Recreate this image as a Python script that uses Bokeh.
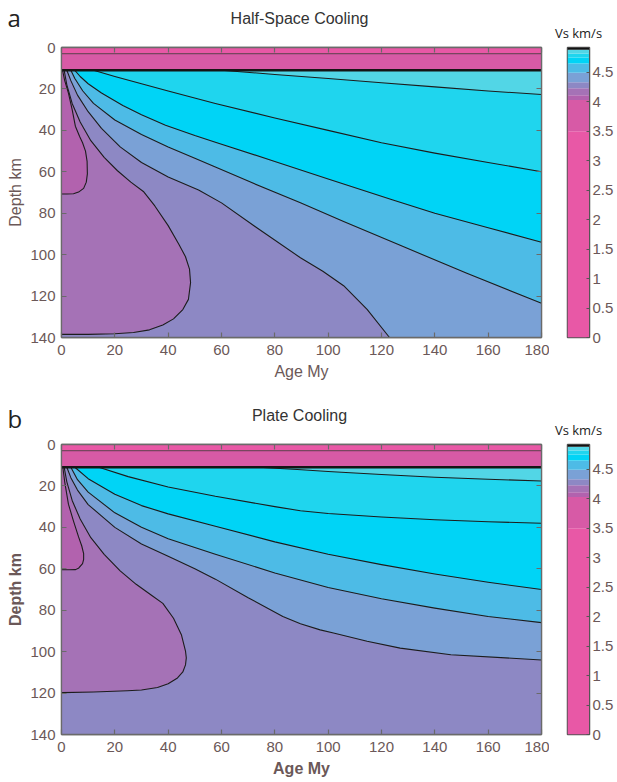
from bokeh.plotting import figure
from bokeh.models import Range1d, LinearAxis, FixedTicker, CustomJSTickFormatter
from bokeh.layouts import column, row
from bokeh.embed import file_html
from bokeh.resources import INLINE
from bokeh.core.properties import value

# ---------------- data ----------------
AGE_TICKS = [0, 20, 40, 60, 80, 100, 120, 140, 160, 180]
DEPTH_TICKS = [0, 20, 40, 60, 80, 100, 120, 140]
VS_TICKS = [0, 0.5, 1, 1.5, 2, 2.5, 3, 3.5, 4, 4.5]

MAX_AGE = 180
MAX_DEPTH = 140
WATER_BOTTOM = 3.0
CRUST_BOTTOM = 11.0
WATER_VS = 0.0
CRUST_VS = 3.8

# discrete colour scale (Vs km/s)
VS_LEVELS = [0, 3.5, 4.03, 4.11, 4.23, 4.33, 4.49, 4.65, 4.75, 4.82, 4.88, 4.92]
VS_COLORS = ["#e858a6", "#d75aa6", "#b262ae", "#a572b6", "#8d88c4", "#7aa1d6",
             "#4dbbe6", "#00d4f6", "#1fd5ee", "#52d6e6", "#111111"]

# mantle Vs of the regions: inside L1, L1-L2, ..., L6-L7, above L7
MANTLE_VS = [4.07, 4.17, 4.28, 4.41, 4.57, 4.70, 4.78, 4.85]

# ---- Half-space cooling contours (age My, depth km) ----
HS_L1_AGE = [0.4, 1.2, 2.6, 4.0, 5.2, 6.8, 7.9, 9.0, 9.6, 9.7, 9.3, 8.3, 6.4, 4.5, 2.0, 0.0]
HS_L1_DEPTH = [11, 16, 22, 30, 38, 43, 46, 50, 55, 61, 65, 68, 69.8, 70.6, 70.7, 70.7]
HS_L2_AGE = [1.0, 2.0, 4.0, 7.0, 11, 16, 21, 26, 30.7, 35, 40, 44, 46.5, 48, 48.4, 47.6, 45.5, 42, 38, 33, 27, 20, 10, 0]
HS_L2_DEPTH = [11, 18, 27, 36, 45, 53, 59.5, 65, 69.5, 76.5, 86, 95, 101, 107, 113.5, 121.6, 126.5, 131, 134, 136.3, 137.6, 138.2, 138.5, 138.5]
HS_L3_AGE = [2.0, 3.5, 6, 10, 15, 22, 30, 40, 51.4, 60, 72.7, 89.6, 98, 105.8, 114.6, 123]
HS_L3_DEPTH = [11, 16, 23, 31, 39, 48, 55.5, 62.5, 68.8, 75, 86.5, 101.5, 108, 115, 126.4, 140]
HS_L4_AGE = [3.5, 5, 8, 12, 20, 30, 40, 50, 57.7, 70, 89.6, 105.8, 127, 152, 180]
HS_L4_DEPTH = [11, 15, 21, 27, 35, 42, 48, 53.5, 57.7, 64.5, 75, 84, 95.5, 109, 123.5]
HS_L5_AGE = [5, 7, 10, 15, 23, 30, 39, 50, 57.7, 80, 100, 124, 140, 160, 180]
HS_L5_DEPTH = [11, 14, 17.5, 22, 28, 32.5, 37.5, 42.5, 45.7, 55, 63.5, 73.5, 80, 87, 94]
HS_L6_AGE = [12, 20, 30, 40, 57.7, 80, 100, 120, 140, 160, 180]
HS_L6_DEPTH = [11, 14, 17.5, 21, 27, 34, 40, 46, 51, 55.5, 60]
HS_L7_AGE = [60, 80, 100, 120, 140, 160, 180]
HS_L7_DEPTH = [11, 13, 15, 17, 19, 21, 22.7]

# ---- Plate cooling contours (age My, depth km) ----
PC_L1_AGE = [0.5, 1.2, 2.6, 4.5, 6.4, 7.6, 8.3, 8.3, 7.9, 6.5, 5.3, 3.0, 0.0]
PC_L1_DEPTH = [11, 18, 28.8, 37, 44.6, 49, 52.7, 55.5, 57.5, 59.6, 60.4, 60.5, 60.5]
PC_L2_AGE = [1.0, 2, 4, 7, 11, 16, 22, 28, 34, 38, 42, 45, 46.5, 46.8, 46.5, 45.5, 43.5, 40, 36, 30, 24.7, 12, 0]
PC_L2_DEPTH = [11, 18, 27, 36, 45, 53, 61, 67.5, 73, 76.7, 83.9, 92, 99.7, 103, 106.4, 109.8, 112.7, 115.5, 117.3, 118.5, 118.9, 119.5, 119.8]
PC_L3_AGE = [2.0, 3.5, 6, 10, 20, 30, 40, 50, 57.7, 70, 83, 89.6, 97, 102, 114.6, 127, 146, 180]
PC_L3_DEPTH = [11, 16, 22, 29, 40, 48, 54, 60, 65, 74, 83, 86.5, 89.5, 91, 95, 98.3, 101.5, 104]
PC_L4_AGE = [3.5, 6, 10, 20, 30, 40, 57.7, 80, 100, 120, 140, 160, 180]
PC_L4_DEPTH = [11, 17, 23, 33, 40, 45.5, 53, 62, 69, 74.5, 79, 83, 86]
PC_L5_AGE = [5, 10, 20, 30, 40, 57.7, 80, 100, 120, 140, 160, 180]
PC_L5_DEPTH = [11, 16.5, 24, 29.5, 33.5, 39.5, 47, 53, 58, 62.5, 66.5, 70]
PC_L6_AGE = [14, 25, 40, 57.7, 80, 89.6, 100, 120, 140, 160, 180]
PC_L6_DEPTH = [11, 15.5, 20.5, 25, 30, 32, 33.3, 35, 36.3, 37.3, 38]
PC_L7_AGE = [74, 90, 100, 120, 140, 160, 180]
PC_L7_DEPTH = [11, 12.2, 13, 14.5, 15.8, 16.8, 17.6]

HS_LINES = [(HS_L1_AGE, HS_L1_DEPTH), (HS_L2_AGE, HS_L2_DEPTH), (HS_L3_AGE, HS_L3_DEPTH),
            (HS_L4_AGE, HS_L4_DEPTH), (HS_L5_AGE, HS_L5_DEPTH), (HS_L6_AGE, HS_L6_DEPTH),
            (HS_L7_AGE, HS_L7_DEPTH)]
PC_LINES = [(PC_L1_AGE, PC_L1_DEPTH), (PC_L2_AGE, PC_L2_DEPTH), (PC_L3_AGE, PC_L3_DEPTH),
            (PC_L4_AGE, PC_L4_DEPTH), (PC_L5_AGE, PC_L5_DEPTH), (PC_L6_AGE, PC_L6_DEPTH),
            (PC_L7_AGE, PC_L7_DEPTH)]

# ---------------- styling ----------------
AXIS_COLOR = "#6a6a6a"
TICK_COLOR = "#6b5858"
FONT = "Liberation Sans"
FRAME_W = 480
FRAME_H = 290
MAIN_LEFT = 61
MAIN_RIGHT = 8
CB_LEFT = 18
CB_W = 22
CB_RIGHT = 26
TOTAL_W = MAIN_LEFT + FRAME_W + MAIN_RIGHT + CB_LEFT + CB_W + CB_RIGHT


def vs_color(v):
    for lo, hi, c in zip(VS_LEVELS[:-1], VS_LEVELS[1:], VS_COLORS):
        if lo <= v < hi:
            return c
    return VS_COLORS[-1]


def style_axis(ax):
    ax.major_tick_in = 5
    ax.major_tick_out = 0
    ax.minor_tick_line_color = None
    ax.axis_line_color = AXIS_COLOR
    ax.axis_line_width = 1.3
    ax.major_tick_line_color = AXIS_COLOR
    ax.major_tick_line_width = 1.2


def make_header(height, letter, letter_y, title, title_y, cb_title_y):
    h = figure(frame_width=TOTAL_W, frame_height=height,
               x_range=Range1d(0, TOTAL_W), y_range=Range1d(height, 0),
               min_border_left=0, min_border_right=0, min_border_top=0, min_border_bottom=0,
               x_axis_location=None, y_axis_location=None,
               output_backend="svg", toolbar_location=None)
    h.grid.visible = False
    h.outline_line_color = None
    h.text(x=[7], y=[letter_y], text=[letter], text_align="left", text_baseline="middle",
           text_font=value("Open Sans"), text_font_size="24px", text_color="#222222")
    h.text(x=[MAIN_LEFT + FRAME_W / 2 - 2], y=[title_y], text=[title], text_align="center",
           text_baseline="middle", text_font=value(FONT), text_font_size="16px",
           text_color="#333333")
    h.text(x=[MAIN_LEFT + FRAME_W + MAIN_RIGHT + CB_LEFT + CB_W / 2], y=[cb_title_y],
           text=["Vs km/s"], text_align="center", text_baseline="middle",
           text_font=value("Open Sans"), text_font_size="13px", text_color="#222222")
    return h


def make_panel(lines, top_border, bottom_border, bold):
    p = figure(frame_width=FRAME_W, frame_height=FRAME_H,
               x_range=Range1d(0, MAX_AGE), y_range=Range1d(MAX_DEPTH, 0),
               min_border_left=MAIN_LEFT, min_border_right=MAIN_RIGHT,
               min_border_top=top_border, min_border_bottom=bottom_border,
               output_backend="svg", toolbar_location=None)
    p.grid.visible = False
    p.outline_line_color = AXIS_COLOR
    p.outline_line_width = 1.3

    # mantle background (highest band) then nested lower bands
    p.quad(left=[0], right=[MAX_AGE], top=[CRUST_BOTTOM], bottom=[MAX_DEPTH],
           fill_color=vs_color(MANTLE_VS[-1]), line_color=None)
    for k in range(len(lines) - 1, -1, -1):
        ages, depths = lines[k]
        xs = list(ages)
        ys = list(depths)
        if ages[-1] >= MAX_AGE:
            xs.append(MAX_AGE); ys.append(MAX_DEPTH)
        if ages[-1] >= MAX_AGE or depths[-1] >= MAX_DEPTH:
            xs.append(0); ys.append(MAX_DEPTH)
        xs.append(0); ys.append(CRUST_BOTTOM)
        p.patch(xs, ys, fill_color=vs_color(MANTLE_VS[k]), line_color=None)
    for ages, depths in lines:
        p.line(ages, depths, line_color="#1c1c1c", line_width=1.1, line_join="round")

    # water and crust layers
    p.quad(left=[0], right=[MAX_AGE], top=[0], bottom=[WATER_BOTTOM],
           fill_color=vs_color(WATER_VS), line_color=None)
    p.quad(left=[0], right=[MAX_AGE], top=[WATER_BOTTOM], bottom=[CRUST_BOTTOM],
           fill_color=vs_color(CRUST_VS), line_color=None)
    p.line([0, MAX_AGE], [WATER_BOTTOM, WATER_BOTTOM], line_color="#5a3a4a", line_width=1)
    p.line([0, MAX_AGE], [CRUST_BOTTOM, CRUST_BOTTOM], line_color="#151515", line_width=2.6)

    # axes
    for ax in (p.xaxis[0], p.yaxis[0]):
        style_axis(ax)
        ax.major_label_text_font = FONT
        ax.major_label_text_font_size = "15px"
        ax.major_label_text_color = TICK_COLOR
        ax.axis_label_text_font = FONT
        ax.axis_label_text_font_size = "16px"
        ax.axis_label_text_color = TICK_COLOR
        ax.axis_label_text_font_style = "bold" if bold else "normal"
    p.xaxis.ticker = FixedTicker(ticks=AGE_TICKS)
    p.yaxis.ticker = FixedTicker(ticks=DEPTH_TICKS)
    p.xaxis.axis_label = "Age My"
    p.yaxis.axis_label = "Depth km"
    p.xaxis.major_label_standoff = 7
    p.xaxis.axis_label_standoff = 5
    p.yaxis.major_label_standoff = 6
    p.yaxis.axis_label_standoff = 3

    empty = CustomJSTickFormatter(code="return ''")
    top_ax = LinearAxis(ticker=FixedTicker(ticks=AGE_TICKS), formatter=empty,
                        major_label_standoff=0, major_label_text_font_size="1px")
    style_axis(top_ax)
    p.add_layout(top_ax, "above")
    right_ax = LinearAxis(ticker=FixedTicker(ticks=DEPTH_TICKS), formatter=empty,
                          major_label_standoff=0, major_label_text_font_size="1px")
    style_axis(right_ax)
    p.add_layout(right_ax, "right")
    return p


def make_colorbar(top_border, bottom_border):
    cb = figure(frame_width=CB_W, frame_height=FRAME_H,
                x_range=Range1d(0, 1), y_range=Range1d(0, VS_LEVELS[-1]),
                min_border_left=CB_LEFT, min_border_right=CB_RIGHT,
                min_border_top=top_border, min_border_bottom=bottom_border,
                x_axis_location=None, y_axis_location="right",
                output_backend="svg", toolbar_location=None)
    cb.grid.visible = False
    n = len(VS_COLORS)
    cb.quad(left=[0] * n, right=[1] * n, bottom=VS_LEVELS[:-1], top=VS_LEVELS[1:],
            fill_color=VS_COLORS, line_color=None)
    cb.outline_line_color = "#555555"
    cb.outline_line_width = 1.5
    ax = cb.yaxis[0]
    ax.ticker = FixedTicker(ticks=VS_TICKS)
    ax.formatter = CustomJSTickFormatter(code="return String(tick)")
    ax.major_tick_in = 3
    ax.major_tick_out = 0
    ax.minor_tick_line_color = None
    ax.axis_line_color = "#555555"
    ax.major_tick_line_color = "#555555"
    ax.major_label_standoff = 3
    ax.major_label_text_font = FONT
    ax.major_label_text_font_size = "15px"
    ax.major_label_text_color = TICK_COLOR
    return cb


ha = make_header(40, "a", 17, "Half-Space Cooling", 18, 32)
pa = make_panel(HS_LINES, 7, 52, False)
ca = make_colorbar(7, 52)
hb = make_header(48, "b", 29, "Plate Cooling", 26, 40)
pb = make_panel(PC_LINES, 7, 44, True)
cbb = make_colorbar(7, 44)

layout = column(ha, row(pa, ca), hb, row(pb, cbb))
open("out.html", "w").write(file_html(layout, INLINE))
